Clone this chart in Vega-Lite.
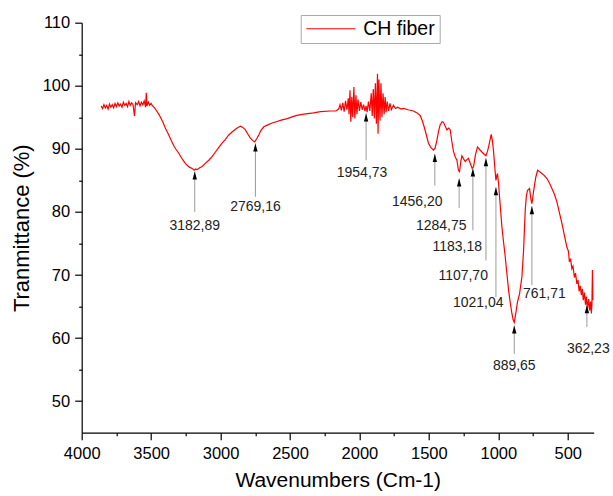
{
  "$schema": "https://vega.github.io/schema/vega-lite/v6.json",
  "width": 512,
  "height": 410,
  "autosize": {"type": "none"},
  "padding": {"left": 81.7, "top": 22.7, "right": 19.3, "bottom": 63.6},
  "background": "white",
  "config": {
    "view": {"stroke": null},
    "font": "Liberation Sans",
    "axis": {"grid": false, "domainColor": "#000", "domainWidth": 1.2, "tickColor": "#000", "tickWidth": 1.2, "labelColor": "#000", "titleColor": "#000", "titleFontWeight": "normal", "labelFont": "Liberation Sans", "titleFont": "Liberation Sans"}
  },
  "datasets": {
    "spectrum": [
      {"wn": 3860, "T": 96.8}, {"wn": 3850, "T": 96.4}, {"wn": 3840, "T": 97.0}, {"wn": 3830, "T": 96.5},
      {"wn": 3820, "T": 96.9}, {"wn": 3810, "T": 96.3}, {"wn": 3800, "T": 97.1}, {"wn": 3790, "T": 96.6},
      {"wn": 3780, "T": 97.0}, {"wn": 3770, "T": 96.5}, {"wn": 3760, "T": 97.2}, {"wn": 3750, "T": 96.7},
      {"wn": 3740, "T": 97.3}, {"wn": 3730, "T": 96.8}, {"wn": 3720, "T": 97.1}, {"wn": 3710, "T": 96.6},
      {"wn": 3700, "T": 97.4}, {"wn": 3690, "T": 96.9}, {"wn": 3680, "T": 97.2}, {"wn": 3670, "T": 96.7},
      {"wn": 3660, "T": 97.5}, {"wn": 3650, "T": 96.9}, {"wn": 3640, "T": 97.3}, {"wn": 3630, "T": 97.0},
      {"wn": 3620, "T": 95.2}, {"wn": 3612, "T": 97.3}, {"wn": 3600, "T": 97.0}, {"wn": 3590, "T": 97.5},
      {"wn": 3580, "T": 96.8}, {"wn": 3570, "T": 97.4}, {"wn": 3560, "T": 97.0}, {"wn": 3550, "T": 97.6},
      {"wn": 3540, "T": 96.6}, {"wn": 3535, "T": 98.9}, {"wn": 3530, "T": 96.8}, {"wn": 3520, "T": 97.4},
      {"wn": 3510, "T": 96.9}, {"wn": 3500, "T": 97.2}, {"wn": 3490, "T": 96.8}, {"wn": 3475, "T": 96.5},
      {"wn": 3460, "T": 96.0}, {"wn": 3445, "T": 95.5}, {"wn": 3430, "T": 94.9}, {"wn": 3415, "T": 94.2},
      {"wn": 3398, "T": 93.3}, {"wn": 3380, "T": 92.5}, {"wn": 3365, "T": 91.8}, {"wn": 3350, "T": 91.1},
      {"wn": 3335, "T": 90.4}, {"wn": 3320, "T": 89.9}, {"wn": 3301, "T": 89.3}, {"wn": 3285, "T": 88.7},
      {"wn": 3270, "T": 88.2}, {"wn": 3254, "T": 87.7}, {"wn": 3240, "T": 87.4}, {"wn": 3225, "T": 87.1},
      {"wn": 3205, "T": 86.9}, {"wn": 3190, "T": 86.6}, {"wn": 3180, "T": 86.8}, {"wn": 3169, "T": 86.7},
      {"wn": 3150, "T": 87.0}, {"wn": 3133, "T": 87.2}, {"wn": 3110, "T": 87.7}, {"wn": 3085, "T": 88.2},
      {"wn": 3060, "T": 88.8}, {"wn": 3037, "T": 89.5}, {"wn": 3010, "T": 90.3}, {"wn": 2989, "T": 90.9},
      {"wn": 2965, "T": 91.5}, {"wn": 2941, "T": 92.2}, {"wn": 2915, "T": 92.7}, {"wn": 2893, "T": 93.1},
      {"wn": 2875, "T": 93.4}, {"wn": 2857, "T": 93.6}, {"wn": 2840, "T": 93.4}, {"wn": 2821, "T": 93.0},
      {"wn": 2805, "T": 92.4}, {"wn": 2785, "T": 91.7}, {"wn": 2768, "T": 91.3}, {"wn": 2754, "T": 91.1},
      {"wn": 2740, "T": 91.6}, {"wn": 2725, "T": 92.2}, {"wn": 2710, "T": 92.9}, {"wn": 2689, "T": 93.5},
      {"wn": 2660, "T": 93.8}, {"wn": 2629, "T": 94.1}, {"wn": 2600, "T": 94.3}, {"wn": 2557, "T": 94.6},
      {"wn": 2520, "T": 94.8}, {"wn": 2480, "T": 95.1}, {"wn": 2451, "T": 95.3}, {"wn": 2400, "T": 95.5},
      {"wn": 2331, "T": 95.7}, {"wn": 2280, "T": 95.9}, {"wn": 2211, "T": 96.0}, {"wn": 2170, "T": 96.0},
      {"wn": 2150, "T": 96.3}, {"wn": 2140, "T": 97.0}, {"wn": 2130, "T": 96.1}, {"wn": 2120, "T": 97.3},
      {"wn": 2110, "T": 95.9}, {"wn": 2100, "T": 97.6}, {"wn": 2090, "T": 96.2}, {"wn": 2080, "T": 98.0},
      {"wn": 2075, "T": 95.5}, {"wn": 2068, "T": 99.3}, {"wn": 2062, "T": 94.3}, {"wn": 2055, "T": 98.2},
      {"wn": 2048, "T": 95.0}, {"wn": 2040, "T": 99.8}, {"wn": 2033, "T": 94.8}, {"wn": 2025, "T": 98.5},
      {"wn": 2018, "T": 95.5}, {"wn": 2010, "T": 97.8}, {"wn": 2000, "T": 96.0}, {"wn": 1990, "T": 97.4},
      {"wn": 1980, "T": 96.2}, {"wn": 1970, "T": 97.0}, {"wn": 1960, "T": 96.0}, {"wn": 1952, "T": 96.8},
      {"wn": 1945, "T": 95.8}, {"wn": 1935, "T": 97.5}, {"wn": 1925, "T": 96.0}, {"wn": 1915, "T": 98.8},
      {"wn": 1908, "T": 95.2}, {"wn": 1900, "T": 99.5}, {"wn": 1893, "T": 94.8}, {"wn": 1885, "T": 100.4},
      {"wn": 1878, "T": 94.0}, {"wn": 1870, "T": 101.9}, {"wn": 1866, "T": 92.4}, {"wn": 1860, "T": 101.0},
      {"wn": 1852, "T": 94.5}, {"wn": 1845, "T": 100.4}, {"wn": 1838, "T": 95.0}, {"wn": 1830, "T": 98.8},
      {"wn": 1822, "T": 95.5}, {"wn": 1815, "T": 98.2}, {"wn": 1808, "T": 95.8}, {"wn": 1800, "T": 97.5},
      {"wn": 1790, "T": 96.0}, {"wn": 1780, "T": 97.2}, {"wn": 1770, "T": 96.2}, {"wn": 1755, "T": 96.9},
      {"wn": 1740, "T": 96.4}, {"wn": 1725, "T": 96.6}, {"wn": 1700, "T": 96.3}, {"wn": 1683, "T": 96.4},
      {"wn": 1650, "T": 96.2}, {"wn": 1611, "T": 96.0}, {"wn": 1585, "T": 95.7}, {"wn": 1563, "T": 95.3},
      {"wn": 1548, "T": 94.5}, {"wn": 1534, "T": 93.5}, {"wn": 1518, "T": 92.2}, {"wn": 1503, "T": 90.9},
      {"wn": 1485, "T": 90.2}, {"wn": 1467, "T": 89.8}, {"wn": 1455, "T": 90.1}, {"wn": 1442, "T": 91.4},
      {"wn": 1430, "T": 92.8}, {"wn": 1419, "T": 93.8}, {"wn": 1405, "T": 94.3}, {"wn": 1395, "T": 94.2},
      {"wn": 1382, "T": 93.6}, {"wn": 1370, "T": 93.0}, {"wn": 1358, "T": 93.3}, {"wn": 1346, "T": 93.0},
      {"wn": 1335, "T": 91.2}, {"wn": 1323, "T": 89.6}, {"wn": 1310, "T": 88.7}, {"wn": 1298, "T": 88.2},
      {"wn": 1287, "T": 86.6}, {"wn": 1279, "T": 86.4}, {"wn": 1270, "T": 88.0}, {"wn": 1262, "T": 88.9},
      {"wn": 1250, "T": 88.4}, {"wn": 1238, "T": 88.0}, {"wn": 1226, "T": 88.3}, {"wn": 1215, "T": 88.5},
      {"wn": 1200, "T": 87.6}, {"wn": 1188, "T": 86.9}, {"wn": 1178, "T": 87.2}, {"wn": 1165, "T": 89.0},
      {"wn": 1150, "T": 90.3}, {"wn": 1135, "T": 89.9}, {"wn": 1118, "T": 89.5}, {"wn": 1100, "T": 89.1},
      {"wn": 1089, "T": 88.9}, {"wn": 1078, "T": 89.6}, {"wn": 1070, "T": 90.3}, {"wn": 1058, "T": 91.6},
      {"wn": 1051, "T": 92.3}, {"wn": 1043, "T": 91.4}, {"wn": 1035, "T": 89.8}, {"wn": 1025, "T": 87.0},
      {"wn": 1017, "T": 85.0}, {"wn": 1010, "T": 85.8}, {"wn": 1006, "T": 86.1}, {"wn": 998, "T": 84.5},
      {"wn": 991, "T": 82.4}, {"wn": 974, "T": 77.6}, {"wn": 962, "T": 75.2}, {"wn": 950, "T": 72.9},
      {"wn": 938, "T": 70.2}, {"wn": 926, "T": 67.6}, {"wn": 914, "T": 65.6}, {"wn": 902, "T": 63.9},
      {"wn": 893, "T": 62.9}, {"wn": 885, "T": 62.5}, {"wn": 875, "T": 63.8}, {"wn": 862, "T": 65.7},
      {"wn": 847, "T": 67.0}, {"wn": 830, "T": 69.7}, {"wn": 818, "T": 73.9}, {"wn": 806, "T": 80.3},
      {"wn": 798, "T": 82.5}, {"wn": 790, "T": 83.4}, {"wn": 775, "T": 83.7}, {"wn": 765, "T": 82.0},
      {"wn": 758, "T": 81.3}, {"wn": 750, "T": 82.6}, {"wn": 741, "T": 84.0}, {"wn": 730, "T": 85.5},
      {"wn": 717, "T": 86.6}, {"wn": 705, "T": 86.4}, {"wn": 686, "T": 86.1}, {"wn": 670, "T": 85.8},
      {"wn": 650, "T": 85.3}, {"wn": 632, "T": 84.6}, {"wn": 614, "T": 83.7}, {"wn": 596, "T": 82.8},
      {"wn": 578, "T": 81.6}, {"wn": 560, "T": 79.9}, {"wn": 542, "T": 78.2}, {"wn": 524, "T": 76.3},
      {"wn": 506, "T": 74.4}, {"wn": 495, "T": 73.8}, {"wn": 488, "T": 72.1}, {"wn": 480, "T": 72.6},
      {"wn": 470, "T": 71.0}, {"wn": 462, "T": 71.4}, {"wn": 452, "T": 69.6}, {"wn": 444, "T": 70.3},
      {"wn": 434, "T": 68.6}, {"wn": 426, "T": 69.2}, {"wn": 418, "T": 67.4}, {"wn": 410, "T": 68.3},
      {"wn": 402, "T": 66.8}, {"wn": 395, "T": 67.8}, {"wn": 388, "T": 66.0}, {"wn": 380, "T": 67.2},
      {"wn": 372, "T": 65.3}, {"wn": 366, "T": 66.6}, {"wn": 358, "T": 64.6}, {"wn": 350, "T": 66.2},
      {"wn": 342, "T": 64.4}, {"wn": 335, "T": 65.8}, {"wn": 330, "T": 63.9}, {"wn": 326, "T": 65.2},
      {"wn": 322, "T": 70.8}, {"wn": 319, "T": 66.0}
    ],
    "peaks": [
      {"label": "3182,89", "wn": 3186, "tip": 86.4, "bottom": 80.0, "labelWn": 3186, "labelT": 77.1},
      {"label": "2769,16", "wn": 2749, "tip": 90.85, "bottom": 82.4, "labelWn": 2749, "labelT": 80.1},
      {"label": "1954,73", "wn": 1952, "tip": 95.6, "bottom": 88.2, "labelWn": 1981, "labelT": 85.5},
      {"label": "1456,20", "wn": 1457, "tip": 89.2, "bottom": 84.2, "labelWn": 1584, "labelT": 80.9},
      {"label": "1284,75", "wn": 1282, "tip": 85.3, "bottom": 80.6, "labelWn": 1411, "labelT": 77.1},
      {"label": "1183,18", "wn": 1183, "tip": 86.9, "bottom": 77.1, "labelWn": 1296, "labelT": 73.8},
      {"label": "1107,70", "wn": 1089, "tip": 88.5, "bottom": 72.3, "labelWn": 1253, "labelT": 69.2},
      {"label": "1021,04", "wn": 1017, "tip": 83.9, "bottom": 66.5, "labelWn": 1145, "labelT": 64.9},
      {"label": "889,65", "wn": 885, "tip": 62.0, "bottom": 57.5, "labelWn": 885, "labelT": 54.9},
      {"label": "761,71", "wn": 758, "tip": 80.9, "bottom": 68.4, "labelWn": 668, "labelT": 66.3},
      {"label": "362,23", "wn": 362, "tip": 65.2, "bottom": 61.75, "labelWn": 352, "labelT": 57.7}
    ]
  },
  "layer": [
    {
      "data": {"name": "spectrum"},
      "mark": {"type": "line", "strokeWidth": 1.2, "interpolate": "linear"},
      "encoding": {
        "x": {
          "field": "wn", "type": "quantitative",
          "scale": {"domain": [4000, 313], "nice": false, "zero": false},
          "axis": {
            "orient": "bottom",
            "values": [4000, 3500, 3000, 2500, 2000, 1500, 1000, 500],
            "format": "d", "tickSize": 7, "labelFontSize": 16.5, "labelPadding": 6,
            "labelFlush": false, "labelOverlap": false,
            "title": "Wavenumbers (Cm-1)", "titleFontSize": 21,
            "titleX": 256, "titleY": 54, "titleBaseline": "alphabetic", "titleAnchor": "middle"
          }
        },
        "y": {
          "field": "T", "type": "quantitative",
          "scale": {"domain": [45, 110], "nice": false, "zero": false},
          "axis": {
            "orient": "left",
            "values": [50, 60, 70, 80, 90, 100, 110],
            "format": "d", "tickSize": 7, "labelFontSize": 16.5, "labelPadding": 5,
            "title": "Tranmittance (%)", "titleFontSize": 22,
            "titleX": -53, "titleY": 205, "titleBaseline": "alphabetic", "titleAngle": -90
          }
        },
        "color": {
          "datum": "CH fiber",
          "scale": {"range": ["#ff0000"]},
          "legend": {
            "title": null, "orient": "none", "legendX": 219, "legendY": -7.7,
            "strokeColor": "#aaaaaa", "fillColor": "white", "padding": 4,
            "symbolType": "M-1,0H7", "symbolSize": 150, "symbolStrokeWidth": 1.2,
            "symbolOffset": -2,
            "labelFontSize": 19.5, "labelColor": "#000", "labelOffset": 41, "labelFont": "Liberation Sans"
          }
        }
      }
    },
    {
      "data": {"name": "peaks"},
      "mark": {"type": "rule", "color": "#9a9a9a", "strokeWidth": 1},
      "encoding": {
        "x": {
          "field": "wn", "type": "quantitative",
          "axis": {
            "orient": "bottom", "values": [3750, 3250, 2750, 2250, 1750, 1250, 750],
            "tickSize": 3, "labels": false, "domain": false, "title": null
          }
        },
        "y": {
          "field": "tip", "type": "quantitative",
          "axis": {
            "orient": "left", "values": [55, 65, 75, 85, 95, 105],
            "tickSize": 3, "labels": false, "domain": false, "title": null
          }
        },
        "y2": {"field": "bottom"}
      }
    },
    {
      "data": {"name": "peaks"},
      "mark": {"type": "point", "shape": "M0,-1L0.55,1L-0.55,1Z", "size": 64, "filled": true, "color": "#000", "opacity": 1, "yOffset": 4},
      "encoding": {
        "x": {"field": "wn", "type": "quantitative", "axis": null},
        "y": {"field": "tip", "type": "quantitative", "axis": null}
      }
    },
    {
      "data": {"name": "peaks"},
      "mark": {"type": "text", "fontSize": 14, "color": "#222", "align": "center", "baseline": "alphabetic", "font": "Liberation Sans"},
      "encoding": {
        "x": {"field": "labelWn", "type": "quantitative", "axis": null},
        "y": {"field": "labelT", "type": "quantitative", "axis": null},
        "text": {"field": "label"}
      }
    }
  ],
  "resolve": {"axis": {"x": "independent", "y": "independent"}}
}
